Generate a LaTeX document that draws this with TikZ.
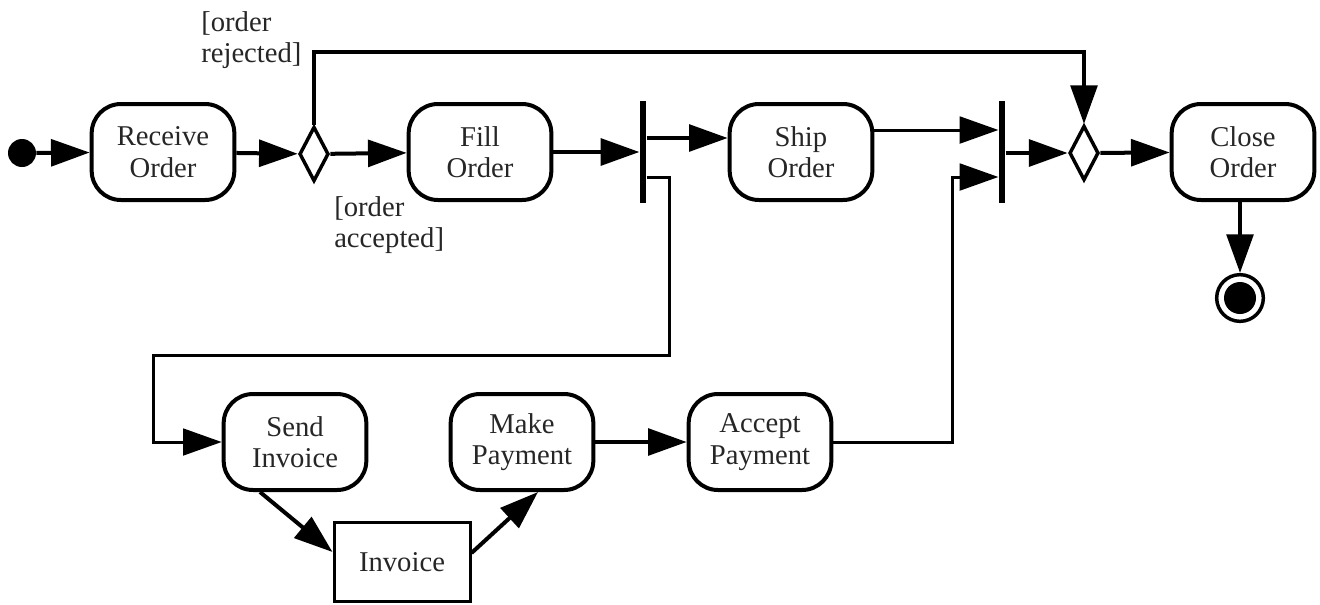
\documentclass[tikz,border=0pt]{standalone}
\usepackage{fontspec}
\setmainfont{Liberation Serif}
\usetikzlibrary{arrows.meta,shapes.geometric,calc}
\begin{document}
\begin{tikzpicture}[x=0.75pt,y=-0.75pt,
  txt/.style={font=\fontsize{21.5}{23.5}\selectfont, text=black!85},
  action/.style={txt, draw, line width=3pt, rounded corners=22pt,
    minimum width=107pt, minimum height=72pt, align=center, inner sep=0pt},
  objbox/.style={txt, draw, line width=2.25pt, minimum width=102pt,
    minimum height=59pt, inner sep=0pt},
  bar/.style={fill, minimum width=5pt, minimum height=76pt, inner sep=0pt},
  choice/.style={diamond, draw, line width=2.6pt, minimum width=22pt,
    minimum height=41pt, inner sep=0pt, fill=white},
  flow/.style={line width=3pt, -{Triangle[length=29pt,width=20pt]}},
  thinflow/.style={line width=2.25pt, -{Triangle[length=29pt,width=20pt]}},
  guard/.style={txt, align=left, anchor=west, inner sep=0pt}
]
\useasboundingbox (0,0) rectangle (1320,604);

% nodes of the activity
\node[circle, fill, minimum size=21pt, inner sep=0pt] (init) at (22,153) {};
\node[action] (recv) at (163,152) {Receive\\Order};
\node[choice] (d1) at (314,154) {};
\node[action] (fill) at (480,152) {Fill\\Order};
\node[bar] (fork) at (643,152) {};
\node[action] (ship) at (801,152) {Ship\\Order};
\node[bar] (join) at (1002,152) {};
\node[choice] (d2) at (1084,153) {};
\node[action] (close) at (1243,152) {Close\\Order};
\node[circle, draw, line width=2.6pt, minimum size=35pt, inner sep=0pt,
  path picture={\fill (path picture bounding box.center) circle (12pt);}]
  (final) at (1240,298) {};
\node[action] (send) at (295,442) {Send\\Invoice};
\node[action] (make) at (522,442) {Make\\Payment};
\node[action] (accept) at (760,442) {Accept\\Payment};
\node[objbox] (invoice) at (402,562) {Invoice};

% guards
\node[guard] (grej) at (201,40) {[order\\rejected]};
\node[guard] (gacc) at (334,225) {[order\\accepted]};

% routing points
\coordinate (rj) at (314,52);
\coordinate (loopA) at (669,355);
\coordinate (loopB) at (153,355);
\coordinate (ja) at (952,300);
\path (fork.east) ++(0,-14) coordinate (f1a);
\path (fork.east) ++(0,25) coordinate (f1b);
\path (join.west) ++(0,-22) coordinate (j1a);
\path (join.west) ++(0,25) coordinate (j1b);

% connectors
\draw[flow] (init) -- (recv);
\draw[flow] (recv) -- (d1);
\draw[flow] (d1) -- (fill);
\draw[flow] (d1.north) -- (rj) -| (d2.north);
\draw[flow] (fill) -- (fork.west |- fill);
\draw[flow] (f1a) -- (f1a -| ship.west);
\draw[thinflow] (f1b) -| (loopA) -- (loopB) |- (send.west);
\draw[thinflow] (j1a -| ship.east) -- (j1a);
\draw[thinflow] (accept.east) -| (ja) |- (j1b);
\draw[flow] (join.east |- d2) -- (d2);
\draw[flow] (d2) -- (close);
\draw[flow] (close.south -| final) -- (final);
\draw[flow] ($(send.south)+(-35,0)$) -- ($(invoice.west)+(0,-10)$);
\draw[flow] ($(invoice.east)+(0,-9)$) -- ($(make.south)+(16,0)$);
\draw[flow] (make) -- (accept);
\end{tikzpicture}
\end{document}
